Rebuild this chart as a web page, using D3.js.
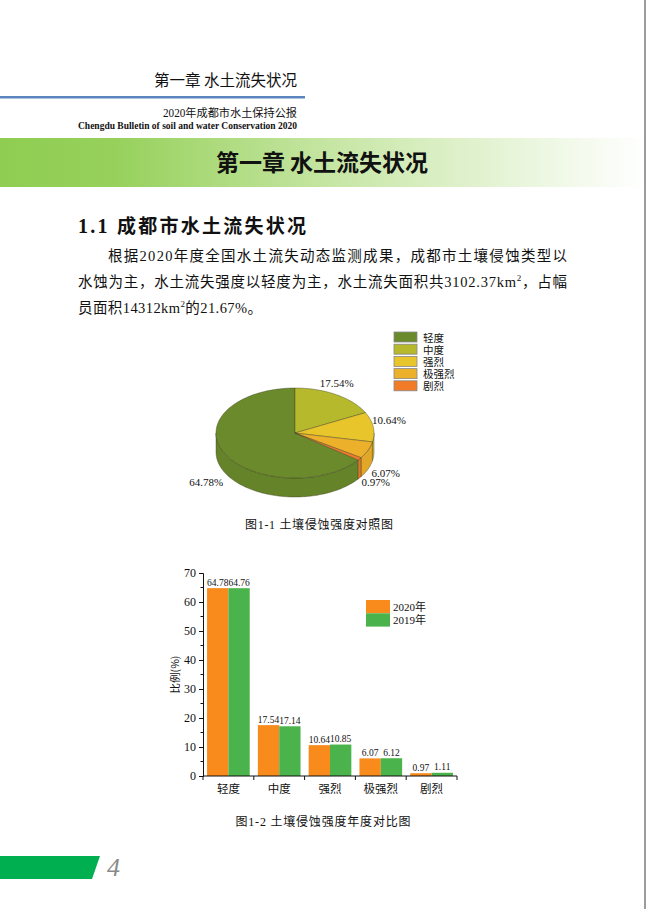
<!DOCTYPE html>
<html>
<head>
<meta charset="utf-8">
<script src="https://cdn.jsdelivr.net/npm/d3@7"></script>
<style>
  body { margin: 0; background: #fff; }
  text { font-family: "Liberation Serif", "Noto Sans CJK SC", serif; fill: #111; }
  .cjk { font-family: "Noto Sans CJK SC", sans-serif; }
</style>
</head>
<body>
<svg id="page" width="647" height="909"></svg>
<script>
// data
const categories = ["轻度", "中度", "强烈", "极强烈", "剧烈"];
const share2020 = [64.78, 17.54, 10.64, 6.07, 0.97];
const share2019 = [64.76, 17.14, 10.85, 6.12, 1.11];
const seriesNames = ["2020年", "2019年"];
const yTicks = [0, 10, 20, 30, 40, 50, 60, 70];

const pieColors = ["#6b8a2b", "#b6b92c", "#e9c52c", "#edb02b", "#f27b27"];
const barColors = ["#f98a1c", "#4ab34b"];
// small nudges for the pie labels
const labelNudge = [[-4, 6], [-8, -4], [0, -6], [3, 0], [3, -1]];

var svg = d3.select("#page");

// ---- page decoration ----
svg.append("rect").attr("x", 644).attr("y", 0).attr("width", 2).attr("height", 909).attr("fill", "#9c9c9c");

svg.append("text").attr("class", "cjk").attr("x", 297).attr("y", 86)
    .attr("text-anchor", "end").attr("font-size", 15.5).text("第一章 水土流失状况");
svg.append("rect").attr("x", 0).attr("y", 96).attr("width", 305).attr("height", 2.5).attr("fill", "#5a86bf");
svg.append("text").attr("x", 297).attr("y", 117).attr("text-anchor", "end")
    .attr("font-size", 11.5).attr("textLength", 134).attr("lengthAdjust", "spacingAndGlyphs")
    .text("2020年成都市水土保持公报");
svg.append("text").attr("x", 297).attr("y", 129).attr("text-anchor", "end")
    .attr("font-size", 9.5).attr("font-weight", "bold").attr("textLength", 219).attr("lengthAdjust", "spacingAndGlyphs")
    .text("Chengdu Bulletin of soil and water Conservation  2020");

// green band
var defs = svg.append("defs");
var grad = defs.append("linearGradient").attr("id", "band").attr("x1", 0).attr("x2", 1).attr("y1", 0).attr("y2", 0);
grad.append("stop").attr("offset", 0).attr("stop-color", "#8fcd52");
grad.append("stop").attr("offset", 0.18).attr("stop-color", "#97d15c");
grad.append("stop").attr("offset", 0.55).attr("stop-color", "#cbe8ab");
grad.append("stop").attr("offset", 1).attr("stop-color", "#ffffff");
svg.append("rect").attr("x", 0).attr("y", 138).attr("width", 644).attr("height", 49).attr("fill", "url(#band)");
svg.append("text").attr("class", "cjk").attr("x", 322).attr("y", 171).attr("text-anchor", "middle")
    .attr("font-size", 23).attr("font-weight", "bold").text("第一章 水土流失状况");

// section title
var st = svg.append("text").attr("x", 78).attr("y", 233).attr("font-size", 20).attr("font-weight", "bold")
    .attr("textLength", 228).attr("lengthAdjust", "spacing");
st.append("tspan").text("1.1 ");
st.append("tspan").attr("class", "cjk").attr("font-size", 19).text("成都市水土流失状况");

// paragraph
var p1 = svg.append("text").attr("x", 108).attr("y", 261).attr("font-size", 14.5)
    .attr("textLength", 459).attr("lengthAdjust", "spacing");
p1.text("根据2020年度全国水土流失动态监测成果，成都市土壤侵蚀类型以");

var p2 = svg.append("text").attr("x", 78).attr("y", 287).attr("font-size", 14.5)
    .attr("textLength", 489).attr("lengthAdjust", "spacing");
p2.append("tspan").text("水蚀为主，水土流失强度以轻度为主，水土流失面积共3102.37km");
p2.append("tspan").attr("font-size", 9).attr("dy", -6).text("2");
p2.append("tspan").attr("dy", 6).text("，占幅");

var p3 = svg.append("text").attr("x", 78).attr("y", 313).attr("font-size", 14.5)
    .attr("textLength", 184).attr("lengthAdjust", "spacing");
p3.append("tspan").text("员面积14312km");
p3.append("tspan").attr("font-size", 9).attr("dy", -6).text("2");
p3.append("tspan").attr("dy", 6).text("的21.67%。");

// ---- 3D pie ----
var cx = 295, cy = 433, rx = 79, ry = 45, depth = 19;
var total = d3.sum(share2020);
// 轻度 ends at 12 o'clock, the rest follow clockwise
var a0pie = -2 * Math.PI * share2020[0] / total;
var arcs = d3.pie().sort(null).value(d => d)
    .startAngle(a0pie).endAngle(a0pie + 2 * Math.PI)(share2020);

function pt(a, off) {
    return [cx + rx * Math.sin(a), cy - ry * Math.cos(a) + (off || 0)];
}
function topPath(d) {
    var p = d3.path(), n = Math.max(2, Math.ceil((d.endAngle - d.startAngle) / 0.02));
    p.moveTo(cx, cy);
    for (var i = 0; i <= n; i++) {
        var q = pt(d.startAngle + (d.endAngle - d.startAngle) * i / n);
        p.lineTo(q[0], q[1]);
    }
    p.closePath();
    return p.toString();
}
// front half of the rim is where cos(a) < 0
function wallRange(d) {
    var lo = Math.PI / 2, hi = Math.PI * 1.5;
    for (var k = -1; k <= 0; k++) {
        var a0 = Math.max(d.startAngle, lo + k * 2 * Math.PI), a1 = Math.min(d.endAngle, hi + k * 2 * Math.PI);
        if (a1 > a0) return [a0, a1];
    }
    return null;
}
function wallPath(d) {
    var r = wallRange(d);
    if (!r) return null;
    var a0 = r[0], a1 = r[1];
    var p = d3.path(), n = Math.max(2, Math.ceil((a1 - a0) / 0.02)), i, q;
    q = pt(a0); p.moveTo(q[0], q[1]);
    for (i = 1; i <= n; i++) { q = pt(a0 + (a1 - a0) * i / n); p.lineTo(q[0], q[1]); }
    for (i = n; i >= 0; i--) { q = pt(a0 + (a1 - a0) * i / n, depth); p.lineTo(q[0], q[1]); }
    p.closePath();
    return p.toString();
}

var pieG = svg.append("g");
pieG.selectAll("path.wall").data(arcs.filter(d => wallRange(d))).enter().append("path")
    .attr("class", "wall")
    .attr("d", wallPath)
    .attr("fill", d => d3.color(pieColors[d.index]).darker(0.15))
    .attr("stroke", "#3a3a20").attr("stroke-width", 0.4);
pieG.selectAll("path.top").data(arcs).enter().append("path")
    .attr("class", "top")
    .attr("d", topPath)
    .attr("fill", d => pieColors[d.index])
    .attr("stroke", "#3a3a20").attr("stroke-width", 0.4);

pieG.selectAll("text.plabel").data(arcs).enter().append("text")
    .attr("class", "plabel")
    .attr("x", d => {
        var m = (d.startAngle + d.endAngle) / 2;
        return cx + 1.2 * rx * Math.sin(m) + labelNudge[d.index][0];
    })
    .attr("y", d => {
        var m = (d.startAngle + d.endAngle) / 2;
        return cy - 1.2 * ry * Math.cos(m) + (Math.cos(m) < 0 ? depth : 0) + labelNudge[d.index][1];
    })
    .attr("text-anchor", "middle").attr("dominant-baseline", "central")
    .attr("font-size", 11).attr("fill", "#222")
    .text(d => d.data.toFixed(2) + "%");

// pie legend
var pl = svg.append("g").attr("transform", "translate(394,332)");
var plRow = pl.selectAll("g").data(categories).enter().append("g")
    .attr("transform", (d, i) => "translate(0," + i * 12.2 + ")");
plRow.append("rect").attr("width", 23).attr("height", 10)
    .attr("fill", (d, i) => pieColors[i]).attr("stroke", "#888").attr("stroke-width", 0.8);
plRow.append("text").attr("class", "cjk").attr("x", 29).attr("y", 5).attr("dominant-baseline", "central")
    .attr("font-size", 10.5).attr("fill", "#333").text(d => d);

svg.append("text").attr("x", 319).attr("y", 529).attr("text-anchor", "middle")
    .attr("font-size", 12).attr("textLength", 148).attr("lengthAdjust", "spacing")
    .text("图1-1 土壤侵蚀强度对照图");

// ---- bar chart ----
var x0 = d3.scaleBand().domain(categories).range([203, 457]).paddingInner(0.16).paddingOuter(0.08);
var x1 = d3.scaleBand().domain(seriesNames).range([0, x0.bandwidth()]);
var y = d3.scaleLinear().domain([0, 70]).range([776, 573]);
var rows = categories.map((c, i) => ({ cat: c, vals: [share2020[i], share2019[i]] }));

var bars = svg.append("g");
var grp = bars.selectAll("g").data(rows).enter().append("g")
    .attr("transform", d => "translate(" + x0(d.cat) + ",0)");
grp.selectAll("rect").data(d => d.vals.map((v, k) => ({ s: seriesNames[k], v: v, k: k }))).enter().append("rect")
    .attr("x", d => x1(d.s))
    .attr("y", d => y(d.v))
    .attr("width", x1.bandwidth())
    .attr("height", d => y(0) - y(d.v))
    .attr("fill", d => barColors[d.k]);
grp.selectAll("text").data(d => d.vals.map((v, k) => ({ s: seriesNames[k], v: v }))).enter().append("text")
    .attr("x", d => x1(d.s) + x1.bandwidth() / 2)
    .attr("y", d => y(d.v) - 2.5)
    .attr("text-anchor", "middle").attr("font-size", 9.5).attr("fill", "#222")
    .text(d => d.v.toFixed(2));

// y axis
var yAxis = svg.append("g").attr("transform", "translate(203,0)")
    .call(d3.axisLeft(y).tickValues(yTicks).tickSize(4).tickPadding(3));
yAxis.selectAll("text").attr("font-size", 12).attr("fill", "#111");
yAxis.selectAll("line, path").attr("stroke", "#111");
yAxis.append("g").selectAll("line").data(d3.range(5, 70, 10)).enter().append("line")
    .attr("x1", -2.5).attr("x2", 0).attr("y1", d => y(d)).attr("y2", d => y(d)).attr("stroke", "#111");
svg.append("text").attr("class", "cjk")
    .attr("transform", "translate(179," + y(35) + ") rotate(-90)")
    .attr("text-anchor", "middle").attr("font-size", 10.5).attr("fill", "#333").text("比例(%)");

// x axis
var xAxis = svg.append("g").attr("transform", "translate(0," + y(0) + ")");
xAxis.append("line").attr("x1", 203).attr("x2", 457).attr("stroke", "#111");
var step = x0.step();
xAxis.selectAll("line.tk").data(d3.range(categories.length + 1)).enter().append("line")
    .attr("class", "tk")
    .attr("x1", i => 203 + i * step).attr("x2", i => 203 + i * step)
    .attr("y1", 0).attr("y2", 4).attr("stroke", "#111");
xAxis.selectAll("text").data(categories).enter().append("text").attr("class", "cjk")
    .attr("x", d => x0(d) + x0.bandwidth() / 2).attr("y", 17)
    .attr("text-anchor", "middle").attr("font-size", 11.5).attr("fill", "#333").text(d => d);

// bar legend
var bl = svg.append("g").attr("transform", "translate(366,600)");
var blRow = bl.selectAll("g").data(seriesNames).enter().append("g")
    .attr("transform", (d, i) => "translate(0," + i * 13.3 + ")");
blRow.append("rect").attr("width", 24).attr("height", 13.3).attr("fill", (d, i) => barColors[i]);
blRow.append("text").attr("x", 27).attr("y", 7).attr("dominant-baseline", "central")
    .attr("font-size", 11).attr("fill", "#333").text(d => d);

svg.append("text").attr("x", 323).attr("y", 826).attr("text-anchor", "middle")
    .attr("font-size", 12).attr("textLength", 175).attr("lengthAdjust", "spacing")
    .text("图1-2 土壤侵蚀强度年度对比图");

// footer
svg.append("polygon").attr("points", "0,856 100,856 92,879 0,879").attr("fill", "#00b050");
svg.append("text").attr("x", 107).attr("y", 876).attr("font-size", 26).attr("font-style", "italic")
    .attr("fill", "#8a8a8a").style("fill", "#8a8a8a").text("4");
</script>
</body>
</html>
